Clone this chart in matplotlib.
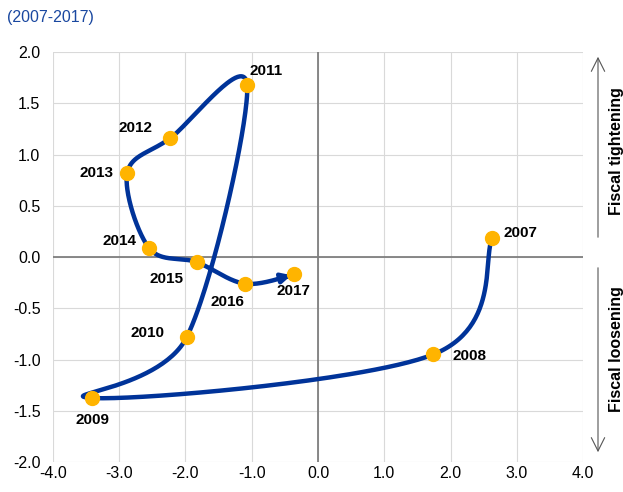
import numpy as np
import matplotlib
matplotlib.use("Agg")
import matplotlib.pyplot as plt
from matplotlib.patches import FancyArrowPatch

plt.rcParams['font.family'] = ['Liberation Sans', 'DejaVu Sans']

# data
years = ['2007', '2008', '2009', '2010', '2011', '2012', '2013',
         '2014', '2015', '2016', '2017']
x_vals = [2.63, 1.74, -3.41, -1.98, -1.07, -2.23, -2.88, -2.55, -1.83, -1.10, -0.36]
y_vals = [0.185, -0.95, -1.375, -0.78, 1.68, 1.16, 0.82, 0.088, -0.05, -0.26, -0.17]

BLUE = '#003399'
ORANGE = '#FFB400'

# label offsets in points (dx, dy, ha)
label_pos = {
    '2007': (8, 4, 'left'),
    '2008': (14, -1, 'left'),
    '2009': (-12, -16, 'left'),
    '2010': (-16, 3, 'right'),
    '2011': (2, 10, 'left'),
    '2012': (-13, 7, 'right'),
    '2013': (-10, 0, 'right'),
    '2014': (-9, 5, 'right'),
    '2015': (-34, -12, 'left'),
    '2016': (-25, -13, 'left'),
    '2017': (-13, -12, 'left'),
}


def smooth(xs, ys, sx, sy, n=60):
    # excel-like smoothed line: bezier segments with catmull-rom controls
    px = np.array(xs) * sx
    py = np.array(ys) * sy
    pts = np.column_stack([px, py])
    out = []
    m = len(pts)
    for i in range(m - 1):
        p0 = pts[i]
        p3 = pts[i + 1]
        prev = pts[i - 1] if i > 0 else pts[i]
        nxt = pts[i + 2] if i + 2 < m else pts[i + 1]
        c1 = p0 + (p3 - prev) / 6.0
        c2 = p3 - (nxt - p0) / 6.0
        t = np.linspace(0, 1, n)[:, None]
        seg = ((1 - t) ** 3) * p0 + 3 * ((1 - t) ** 2) * t * c1 + \
            3 * (1 - t) * t ** 2 * c2 + t ** 3 * p3
        if i > 0:
            seg = seg[1:]
        out.append(seg)
    out = np.vstack(out)
    return out[:, 0] / sx, out[:, 1] / sy


fig = plt.figure(figsize=(6.23, 4.92), dpi=100)
ax = fig.add_axes([0.085, 0.061, 0.851, 0.833])

cx, cy = smooth(x_vals, y_vals, 66.25, 102.5)
ax.plot(cx[:-12], cy[:-12], color=BLUE, lw=3.2, solid_capstyle='round',
        solid_joinstyle='round', zorder=3)
ax.annotate('', xy=(cx[-1], cy[-1]), xytext=(cx[-14], cy[-14]),
            arrowprops=dict(arrowstyle='-|>', color=BLUE, lw=3.2,
                            mutation_scale=14, shrinkA=0, shrinkB=2),
            zorder=3)

ax.plot(x_vals, y_vals, 'o', color=ORANGE, ms=10, mec=ORANGE, zorder=4)

for yr, xv, yv in zip(years, x_vals, y_vals):
    dx, dy, ha = label_pos[yr]
    ax.annotate(yr, (xv, yv), xytext=(dx, dy), textcoords='offset points',
                ha=ha, va='center', fontsize=11, fontweight='bold', zorder=5)

ax.set_xlim(-4, 4)
ax.set_ylim(-2, 2)
xt = np.arange(-4, 4.01, 1)
yt = np.arange(-2, 2.01, 0.5)
ax.set_xticks(xt)
ax.set_yticks(yt)
ax.set_xticklabels([f'{v:.1f}' for v in xt])
ax.set_yticklabels([f'{v:.1f}' for v in yt])
ax.tick_params(axis='y', length=0, labelsize=11.5, pad=9)
ax.tick_params(axis='x', length=0, labelsize=11.5, pad=3)
ax.grid(True, color='#d9d9d9', lw=0.8)
ax.set_axisbelow(True)
for s in ax.spines.values():
    s.set_visible(False)
ax.axhline(0, color='#7f7f7f', lw=1.3, zorder=2)
ax.axvline(0, color='#7f7f7f', lw=1.3, zorder=2)

fig.text(0.011, 0.965, '(2007-2017)', color='#1a48a0', fontsize=11.5,
         ha='left', va='center')

# side arrows
fig.patches.append(FancyArrowPatch(
    (598 / 623, 1 - 240 / 492), (598 / 623, 1 - 54 / 492),
    transform=fig.transFigure, arrowstyle='->', mutation_scale=24,
    color='#555555', lw=0.8))
fig.patches.append(FancyArrowPatch(
    (598 / 623, 1 - 265 / 492), (598 / 623, 1 - 455 / 492),
    transform=fig.transFigure, arrowstyle='->', mutation_scale=24,
    color='#555555', lw=0.8))
fig.text(617 / 623, 1 - 151 / 492, 'Fiscal tightening', rotation=90,
         ha='center', va='center', fontsize=11.5, fontweight='bold')
fig.text(617 / 623, 1 - 349 / 492, 'Fiscal loosening', rotation=90,
         ha='center', va='center', fontsize=11.5, fontweight='bold')

fig.savefig('out.png', dpi=100)
